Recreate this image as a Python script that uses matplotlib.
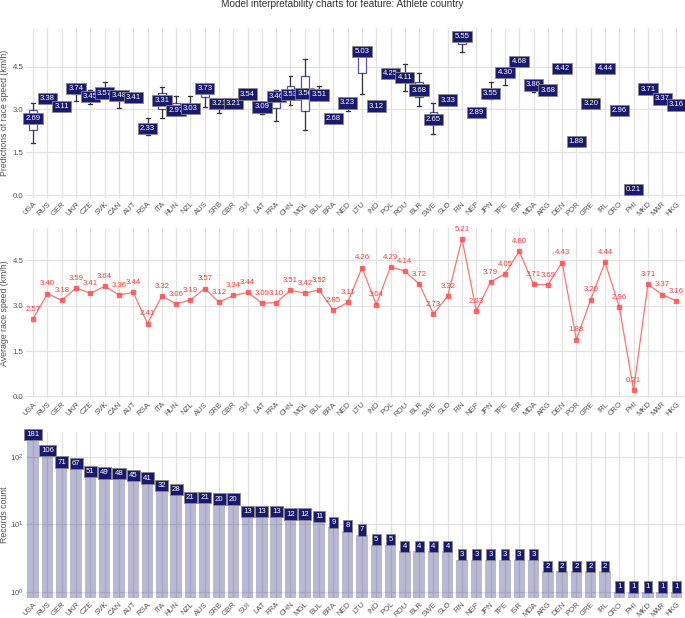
import numpy as np
import matplotlib
matplotlib.use("Agg")
import matplotlib.pyplot as plt

plt.rcParams["font.family"] = ["Liberation Sans", "DejaVu Sans"]

# -----------------------
# DATA
# -----------------------
countries = ["USA", "RUS", "GER", "UKR", "CZE", "SVK", "CAN", "AUT", "RSA", "ITA",
             "HUN", "NZL", "AUS", "SRB", "GBR", "SUI", "LAT", "FRA", "CHN", "MGL",
             "BUL", "BRA", "NED", "LTU", "IND", "POL", "ROU", "BLR", "SWE", "SLO",
             "FIN", "NEP", "JPN", "TPE", "ISR", "MDA", "ARG", "DEN", "POR", "GRE",
             "IRL", "CRO", "PHI", "MKD", "MAR", "HKG"]

# predictions (box plot stats)
pred_med = [2.69, 3.38, 3.11, 3.74, 3.45, 3.57, 3.48, 3.41, 2.33, 3.31,
            2.97, 3.03, 3.73, 3.21, 3.21, 3.54, 3.09, 3.46, 3.53, 3.56,
            3.51, 2.68, 3.23, 5.03, 3.12, 4.25, 4.11, 3.68, 2.65, 3.33,
            5.55, 2.89, 3.55, 4.30, 4.68, 3.86, 3.68, 4.42, 1.88, 3.20,
            4.44, 2.96, 0.21, 3.71, 3.37, 3.16]
pred_q1 = [2.27, 3.33, 3.07, 3.55, 3.35, 3.47, 3.38, 3.37, 2.25, 3.01,
           2.90, 2.98, 3.42, 3.12, 3.17, 3.50, 3.02, 3.04, 3.40, 2.94,
           3.45, 2.65, 3.15, 4.28, 3.08, 4.20, 3.95, 3.42, 2.45, 3.30,
           5.30, 2.86, 3.45, 4.15, 4.64, 3.75, 3.66, 4.40, 1.86, 3.18,
           4.42, 2.96, 0.21, 3.71, 3.37, 3.16]
pred_q3 = [2.98, 3.42, 3.15, 3.80, 3.55, 3.65, 3.55, 3.45, 2.42, 3.57,
           3.22, 3.10, 3.80, 3.28, 3.25, 3.58, 3.14, 3.55, 3.83, 4.16,
           3.58, 2.71, 3.28, 5.10, 3.16, 4.30, 4.25, 3.95, 2.92, 3.36,
           5.62, 2.92, 3.65, 4.40, 4.72, 3.95, 3.70, 4.44, 1.90, 3.22,
           4.46, 2.96, 0.21, 3.71, 3.37, 3.16]
pred_lo = [1.84, 3.28, 3.02, 3.28, 3.19, 3.40, 3.04, 3.33, 2.10, 2.72,
           2.85, 2.95, 3.07, 2.87, 3.12, 3.46, 2.83, 2.59, 3.15, 2.29,
           3.40, 2.62, 2.93, 3.54, 3.05, 4.15, 3.66, 3.12, 2.16, 3.27,
           5.02, 2.83, 3.35, 3.86, 4.60, 3.62, 3.64, 4.38, 1.84, 3.16,
           4.40, 2.96, 0.21, 3.71, 3.37, 3.16]
pred_hi = [3.21, 3.46, 3.19, 3.85, 3.69, 3.95, 3.62, 3.48, 2.72, 3.80,
           3.48, 3.46, 3.85, 3.32, 3.28, 3.62, 3.18, 3.69, 4.18, 4.77,
           3.81, 2.74, 3.32, 5.12, 3.19, 4.35, 4.57, 4.28, 3.21, 3.39,
           5.66, 2.95, 3.97, 4.45, 4.75, 3.98, 3.72, 4.46, 1.92, 3.24,
           4.48, 2.96, 0.21, 3.71, 3.37, 3.16]

# average race speed
avg_speed = [2.57, 3.40, 3.18, 3.59, 3.41, 3.64, 3.36, 3.44, 2.41, 3.32,
             3.06, 3.19, 3.57, 3.12, 3.34, 3.44, 3.09, 3.10, 3.51, 3.42,
             3.52, 2.85, 3.11, 4.26, 3.04, 4.29, 4.14, 3.72, 2.73, 3.32,
             5.21, 2.83, 3.79, 4.05, 4.80, 3.71, 3.69, 4.43, 1.88, 3.20,
             4.44, 2.96, 0.21, 3.71, 3.37, 3.16]

# records count
counts = [181, 106, 71, 67, 51, 49, 48, 45, 41, 32,
          28, 21, 21, 20, 20, 13, 13, 13, 12, 12,
          11, 9, 8, 7, 5, 5, 4, 4, 4, 4,
          3, 3, 3, 3, 3, 3, 2, 2, 2, 2,
          2, 1, 1, 1, 1, 1]

NAVY = "#191970"
GRID = "#e2e2e2"
TXT = "#555555"
FS = 5.6

x = np.arange(len(countries))
lab_box = dict(boxstyle="square,pad=0.28", fc=NAVY, ec="#888888", lw=0.6)

fig = plt.figure(figsize=(6.85, 6.18), dpi=100)
ax1 = fig.add_axes([0.038, 0.680, 0.960, 0.275])
ax2 = fig.add_axes([0.038, 0.356, 0.960, 0.275])
ax3 = fig.add_axes([0.038, 0.032, 0.960, 0.269])


def style(ax):
    for s in ax.spines.values():
        s.set_visible(False)
    ax.set_axisbelow(True)
    ax.grid(True, color=GRID, lw=0.9)
    ax.set_xlim(-0.5, len(countries) - 0.5)
    ax.set_xticks(x)
    ax.set_xticklabels(countries, rotation=45, ha="right", rotation_mode="anchor",
                       fontsize=FS, color=TXT)
    ax.tick_params(length=0, pad=2, labelsize=FS, colors=TXT)
    ax.yaxis.set_label_coords(-0.026, 0.5)


# --- top: predictions box plots ---
stats = []
for i in range(len(countries)):
    stats.append(dict(med=pred_med[i], q1=pred_q1[i], q3=pred_q3[i],
                      whislo=pred_lo[i], whishi=pred_hi[i], fliers=[]))
ax1.bxp(stats, positions=x, widths=0.55, patch_artist=True, showfliers=False,
        boxprops=dict(facecolor="white", edgecolor="#5252a8", lw=0.9),
        whiskerprops=dict(color="#333333", lw=0.9),
        capprops=dict(color="#333333", lw=0.9),
        medianprops=dict(color=NAVY, lw=0.9))
for i, v in enumerate(pred_med):
    ax1.text(x[i], v, f"{v:.2f}", ha="center", va="center", fontsize=FS,
             color="white", bbox=lab_box, zorder=5)
ax1.set_ylim(-0.08, 5.85)
ax1.set_yticks([0, 1.5, 3.0, 4.5])
ax1.set_yticklabels(["0.0", "1.5", "3.0", "4.5"])
ax1.set_ylabel("Predictions of race speed (km/h)", fontsize=6.3, color=TXT)
style(ax1)

# --- middle: average race speed ---
ax2.plot(x, avg_speed, color="#ff5050", alpha=0.8, lw=0.9, marker="s", ms=2.2)
for i, v in enumerate(avg_speed):
    ax2.annotate(f"{v:.2f}", (x[i], v), xytext=(0, 7), textcoords="offset points",
                 ha="center", va="center", fontsize=FS, color="#ff3b3b")
ax2.set_ylim(-0.05, 5.57)
ax2.set_yticks([0, 1.5, 3.0, 4.5])
ax2.set_yticklabels(["0.0", "1.5", "3.0", "4.5"])
ax2.set_ylabel("Average race speed (km/h)", fontsize=6.3, color=TXT)
style(ax2)

# --- bottom: records count ---
ax3.bar(x, counts, width=0.8, color=NAVY, alpha=0.3)
ax3.set_yscale("log")
for i, v in enumerate(counts):
    ax3.annotate(str(v), (x[i], v), xytext=(0, 3.5), textcoords="offset points",
                 ha="center", va="center", fontsize=FS, color="white", bbox=lab_box)
ax3.set_ylim(0.8, 234)
ax3.set_yticks([1, 10, 100])
ax3.minorticks_off()
ax3.set_ylabel("Records count", fontsize=6.3, color=TXT)
style(ax3)

fig.suptitle("Model interpretability charts for feature: Athlete country",
             y=0.993, va="center", fontsize=7.2, color="#333333")

fig.savefig("out.png", dpi=100)
